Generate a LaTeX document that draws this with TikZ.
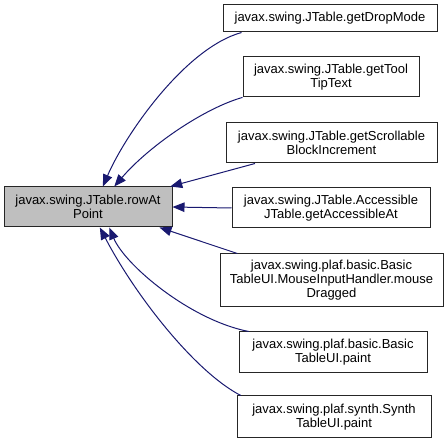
\documentclass[tikz,border=0pt]{standalone}
\usepackage{fontspec}
\setmainfont{Liberation Sans}
\usetikzlibrary{arrows.meta}
\definecolor{midnight}{RGB}{25,25,112}
\definecolor{grey75}{RGB}{191,191,191}

\begin{document}
\begin{tikzpicture}[x=1pt, y=-1pt,
  fn/.style={draw=black!85, line width=1pt, fill=white, align=center, inner sep=0pt,
    font=\fontsize{13}{14}\selectfont},
  edge/.style={draw=midnight, line width=1pt, -{Triangle[length=12pt,width=9.5pt]}}]
  \useasboundingbox (0,0) rectangle (448,446);
  % the called method
  \node[fn, fill=grey75, minimum width=168pt, minimum height=40pt] (main) at (88,207)
    {javax.swing.JTable.rowAt\\Point};
  % callers
  \node[fn, minimum width=214pt, minimum height=27pt] (dropmode) at (330,18.5)
    {javax.swing.JTable.getDropMode};
  \node[fn, minimum width=176pt, minimum height=40pt] (tooltip) at (331,77)
    {javax.swing.JTable.getTool\\TipText};
  \node[fn, minimum width=211pt, minimum height=40pt] (scroll) at (331.5,143)
    {javax.swing.JTable.getScrollable\\BlockIncrement};
  \node[fn, minimum width=198pt, minimum height=40pt] (access) at (331,208)
    {javax.swing.JTable.Accessible\\JTable.getAccessibleAt};
  \node[fn, minimum width=223pt, minimum height=53pt] (dragged) at (331.5,280.5)
    {javax.swing.plaf.basic.Basic\\TableUI.MouseInputHandler.mouse\\Dragged};
  \node[fn, minimum width=188pt, minimum height=41pt] (basicpaint) at (333,352.5)
    {javax.swing.plaf.basic.Basic\\TableUI.paint};
  \node[fn, minimum width=194pt, minimum height=42pt] (synthpaint) at (334,417)
    {javax.swing.plaf.synth.Synth\\TableUI.paint};
  % calls
  \draw[edge] (dropmode.189) .. controls (185,48) and (125,135) .. (main.54);
  \draw[edge] (tooltip.193) .. controls (205,108) and (150,145) .. (main.38);
  \draw[edge] (scroll.195) -- (main.14);
  \draw[edge] (access.west) -- (main.east);
  \draw[edge] (dragged.164) -- (main.-16);
  \draw[edge] (basicpaint.166) .. controls (190,320) and (125,265) .. (main.-44);
  \draw[edge] (synthpaint.167) .. controls (195,372) and (135,295) .. (main.-60);
\end{tikzpicture}
\end{document}
